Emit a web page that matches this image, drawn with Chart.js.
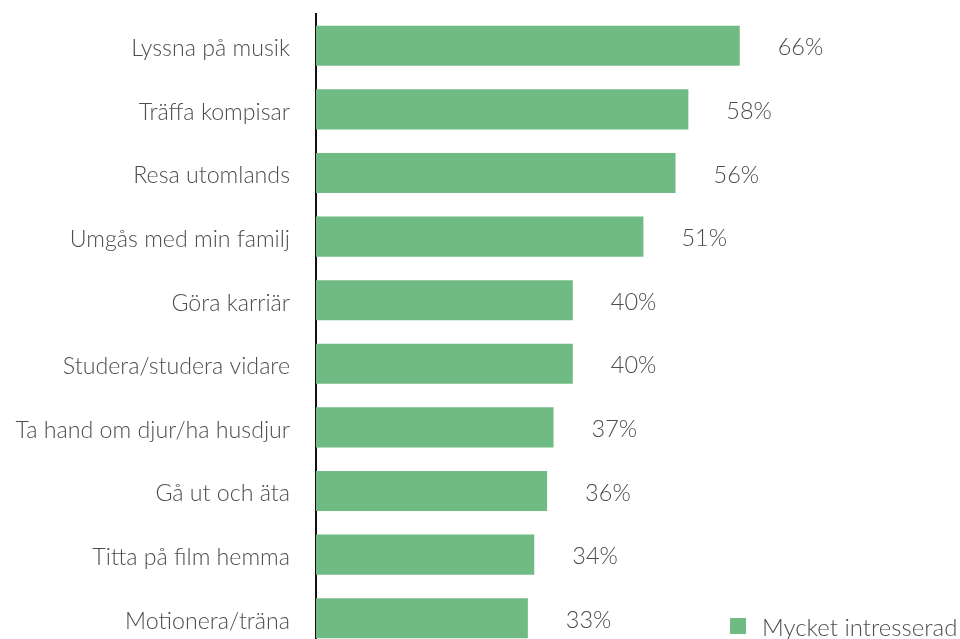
<!DOCTYPE html>
<html>
<head>
<meta charset="utf-8">
<script src="https://cdn.jsdelivr.net/npm/chart.js@4"></script>
<style>
  html, body { margin: 0; padding: 0; background: #fff; overflow: hidden; }
  #wrap { position: relative; width: 960px; height: 639px; overflow: hidden; }
  #chart { position: absolute; left: 0; top: 0; }
  #legend {
    position: absolute; left: 730px; top: 611px; height: 30px;
    font-family: Lato, sans-serif; font-weight: 300; font-size: 24px; color: #4d4d4d;
    display: flex; align-items: center; white-space: nowrap;
  }
  #legend .box { width: 16px; height: 16px; background: #70BB84; margin-right: 16px; }
</style>
</head>
<body>
<div id="wrap">
  <canvas id="chart" width="960" height="650" style="width:960px;height:650px"></canvas>
  <div id="legend"><span class="box"></span><span>Mycket intresserad</span></div>
</div>
<script>
// ----- Data -----
const categories = [
  'Lyssna på musik',
  'Träffa kompisar',
  'Resa utomlands',
  'Umgås med min familj',
  'Göra karriär',
  'Studera/studera vidare',
  'Ta hand om djur/ha husdjur',
  'Gå ut och äta',
  'Titta på film hemma',
  'Motionera/träna'
];
const seriesName = 'Mycket intresserad';
const values = [66, 58, 56, 51, 40, 40, 37, 36, 34, 33];

const GREEN = '#70BB84';
const TEXT  = '#4d4d4d';
const FONT  = 'Lato, sans-serif';

// ----- Value labels drawn after the bars -----
const valueLabels = {
  id: 'valueLabels',
  afterDatasetsDraw(chart) {
    const ctx = chart.ctx;
    const meta = chart.getDatasetMeta(0);
    ctx.save();
    ctx.font = '300 23.5px ' + FONT;
    ctx.fillStyle = TEXT;
    ctx.textAlign = 'left';
    ctx.textBaseline = 'middle';
    meta.data.forEach((bar, i) => {
      ctx.fillText(values[i] + '%', bar.x + 38, bar.y + 2);
    });
    ctx.restore();
  }
};

new Chart(document.getElementById('chart'), {
  type: 'bar',
  data: {
    labels: categories,
    datasets: [{
      label: seriesName,
      data: values,
      backgroundColor: GREEN,
      borderWidth: 0,
      categoryPercentage: 0.63,
      barPercentage: 1.0
    }]
  },
  options: {
    indexAxis: 'y',
    responsive: false,
    animation: false,
    layout: { padding: { top: 14, right: 2, bottom: 0, left: 0 } },
    plugins: {
      legend: { display: false },
      tooltip: { enabled: false }
    },
    scales: {
      x: {
        display: false,
        min: 0,
        max: 100,
        grid: { display: false }
      },
      y: {
        grid: { display: false, drawTicks: false },
        border: { display: true, color: '#111', width: 2 },
        ticks: {
          color: TEXT,
          font: { family: FONT, size: 23.2, weight: '300' },
          padding: 26,
          labelOffset: 3
        },
        afterFit: scale => {
          scale.width = 316;
          // keep the tick padding from shrinking the bar area vertically
          scale.paddingTop = 0;
          scale.paddingBottom = 0;
        }
      }
    }
  },
  plugins: [valueLabels]
});
</script>
</body>
</html>
